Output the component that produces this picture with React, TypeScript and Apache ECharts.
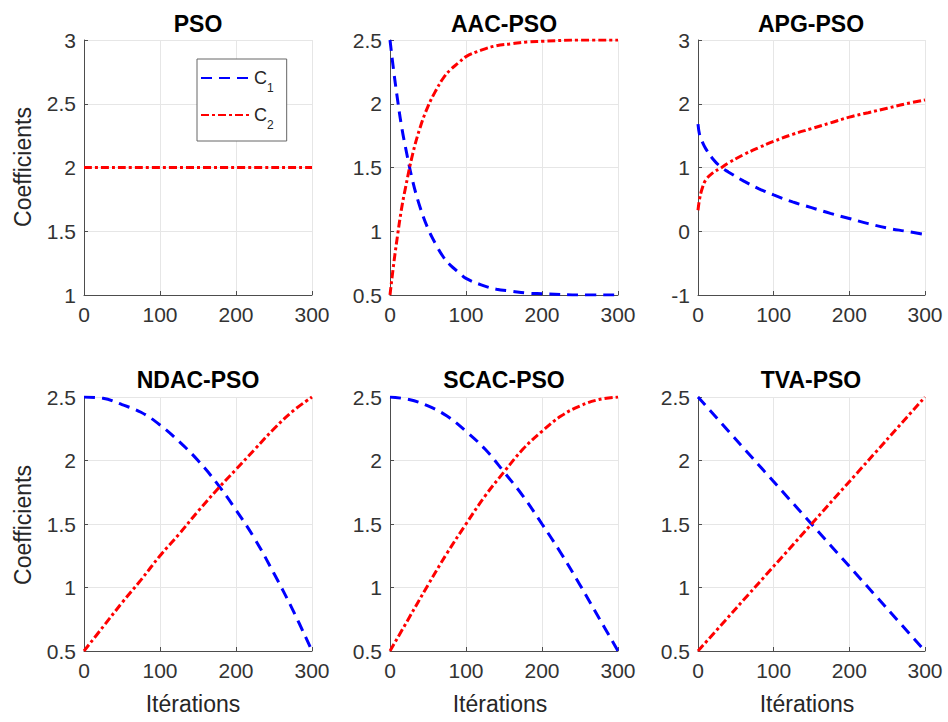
import React, { useEffect, useRef } from 'react';
import * as echarts from 'echarts';

// ---------- data ----------
const panelTitles = ['PSO', 'AAC-PSO', 'APG-PSO', 'NDAC-PSO', 'SCAC-PSO', 'TVA-PSO'];
const seriesNames = ['C1', 'C2'];

// PSO: C1 = C2 = 2 (C1 lies entirely under C2 and is not visible in the reference)
const psoIter = [0, 300];
const psoC1 = [2, 2];
const psoC2 = [2, 2];

const aacIter = [0, 5, 10, 15, 20, 30, 40, 50, 60, 70, 80, 90, 100, 120, 140, 160, 180, 200, 250, 300];
const aacC1 = [2.5, 2.25, 2.03, 1.83, 1.67, 1.39, 1.18, 1.02, 0.9, 0.8, 0.73, 0.68, 0.63, 0.58, 0.545, 0.53, 0.515, 0.51, 0.5, 0.5];
const aacC2 = [0.5, 0.75, 0.97, 1.17, 1.33, 1.61, 1.82, 1.98, 2.1, 2.2, 2.27, 2.32, 2.37, 2.42, 2.455, 2.47, 2.485, 2.49, 2.5, 2.5];

const apgIter = [0, 2, 5, 10, 20, 30, 40, 60, 80, 100, 125, 150, 175, 200, 225, 250, 275, 300];
const apgC1 = [1.68, 1.52, 1.42, 1.3, 1.13, 1.01, 0.93, 0.79, 0.67, 0.57, 0.46, 0.37, 0.28, 0.2, 0.12, 0.05, 0.0, -0.05];
const apgC2 = [0.33, 0.5, 0.65, 0.8, 0.92, 0.99, 1.07, 1.2, 1.31, 1.41, 1.52, 1.61, 1.7, 1.79, 1.86, 1.93, 2.0, 2.06];

const stepIter = [0, 25, 50, 75, 100, 125, 150, 175, 200, 225, 250, 275, 300];
const ndacC1 = [2.5, 2.49, 2.44, 2.38, 2.28, 2.15, 2.0, 1.82, 1.61, 1.38, 1.11, 0.82, 0.5];
const ndacC2 = [0.5, 0.69, 0.88, 1.06, 1.25, 1.42, 1.6, 1.77, 1.93, 2.09, 2.25, 2.39, 2.5];
const scacC1 = [2.5, 2.48, 2.43, 2.35, 2.23, 2.09, 1.91, 1.72, 1.5, 1.27, 1.02, 0.76, 0.5];
const scacC2 = [0.5, 0.76, 1.02, 1.27, 1.5, 1.72, 1.91, 2.09, 2.23, 2.35, 2.43, 2.48, 2.5];
const tvaIter = [0, 300];
const tvaC1 = [2.5, 0.5];
const tvaC2 = [0.5, 2.5];

const yMins = [1, 0.5, -1, 0.5, 0.5, 0.5];
const yMaxs = [3, 2.5, 3, 2.5, 2.5, 2.5];
const yIntervals = [0.5, 0.5, 1, 0.5, 0.5, 0.5];
const xMin = 0;
const xMax = 300;
const xInterval = 100;

const panelData = [
  [psoIter, psoC1, psoC2],
  [aacIter, aacC1, aacC2],
  [apgIter, apgC1, apgC2],
  [stepIter, ndacC1, ndacC2],
  [stepIter, scacC1, scacC2],
  [tvaIter, tvaC1, tvaC2],
];

// ---------- layout / style ----------
const FONT = '"Liberation Sans", Arial, sans-serif';
const gridBoxes = [
  { left: 84, top: 40, width: 228, height: 255 },
  { left: 390, top: 40, width: 228, height: 255 },
  { left: 698, top: 40, width: 227, height: 255 },
  { left: 84, top: 397, width: 228, height: 254 },
  { left: 390, top: 397, width: 228, height: 254 },
  { left: 698, top: 397, width: 227, height: 254 },
];
const titleCenters = [
  [198, 24], [504, 24], [811, 24],
  [198, 380], [504, 380], [811, 380],
];

function buildOption() {
  const grid = gridBoxes.map((g) => ({ ...g, containLabel: false }));
  const xAxis = gridBoxes.map((_, i) => ({
    type: 'value',
    gridIndex: i,
    min: xMin,
    max: xMax,
    interval: xInterval,
    axisLine: { show: true, onZero: false, lineStyle: { color: '#4d4d4d', width: 1 } },
    axisTick: { show: true, inside: true, length: 4, lineStyle: { color: '#4d4d4d' } },
    splitLine: { show: true, lineStyle: { color: '#e6e6e6', width: 1 } },
    axisLabel: { fontSize: 21, fontFamily: FONT, color: '#333', margin: 9 },
  }));
  const yAxis = gridBoxes.map((_, i) => ({
    type: 'value',
    gridIndex: i,
    min: yMins[i],
    max: yMaxs[i],
    interval: yIntervals[i],
    axisLine: { show: true, onZero: false, lineStyle: { color: '#4d4d4d', width: 1 } },
    axisTick: { show: true, inside: true, length: 4, lineStyle: { color: '#4d4d4d' } },
    splitLine: { show: true, lineStyle: { color: '#e6e6e6', width: 1 } },
    axisLabel: { fontSize: 21, fontFamily: FONT, color: '#333', margin: 8 },
  }));

  const series: any[] = [];
  panelData.forEach(([it, c1, c2], i) => {
    series.push({
      name: seriesNames[0],
      type: 'line',
      xAxisIndex: i,
      yAxisIndex: i,
      data: it.map((t, k) => [t, c1[k]]),
      symbol: 'none',
      smooth: 0.4,
      lineStyle: { color: '#0000ff', width: 3, type: [11, 7], opacity: i === 0 ? 0 : 1 },
      itemStyle: { color: '#0000ff' },
      z: 3,
    });
    series.push({
      name: seriesNames[1],
      type: 'line',
      xAxisIndex: i,
      yAxisIndex: i,
      data: it.map((t, k) => [t, c2[k]]),
      symbol: 'none',
      smooth: 0.4,
      lineStyle: { color: '#ff0000', width: 3, type: [8, 3, 3, 3] },
      itemStyle: { color: '#ff0000' },
      z: 4,
    });
  });

  const graphic: any[] = [];
  panelTitles.forEach((t, i) => {
    graphic.push({
      type: 'text',
      x: titleCenters[i][0],
      y: titleCenters[i][1],
      style: {
        text: t,
        font: `bold 23px ${FONT}`,
        fill: '#000',
        textAlign: 'center',
        textVerticalAlign: 'middle',
      },
    });
  });
  [[23, 167], [23, 525]].forEach(([x, y]) => {
    graphic.push({
      type: 'text',
      x,
      y,
      rotation: Math.PI / 2,
      style: {
        text: 'Coefficients',
        font: `23px ${FONT}`,
        fill: '#262626',
        textAlign: 'center',
        textVerticalAlign: 'middle',
      },
    });
  });
  [193, 500, 807].forEach((x) => {
    graphic.push({
      type: 'text',
      x,
      y: 704,
      style: {
        text: 'Itérations',
        font: `23px ${FONT}`,
        fill: '#262626',
        textAlign: 'center',
        textVerticalAlign: 'middle',
      },
    });
  });

  return {
    animation: false,
    backgroundColor: '#ffffff',
    grid,
    xAxis,
    yAxis,
    series,
    graphic,
    legend: {
      data: seriesNames,
      orient: 'vertical',
      left: 197,
      top: 59,
      padding: [10, 13, 10, 3],
      itemWidth: 48,
      itemHeight: 12,
      itemGap: 12,
      borderColor: '#666',
      borderWidth: 1,
      backgroundColor: '#fff',
      selectedMode: false,
      itemStyle: { color: 'transparent', borderColor: 'transparent', borderWidth: 0, opacity: 0 },
      lineStyle: { opacity: 1 },
      formatter: (name: string) => `{c|C}{sub|${name.slice(1)}}`,
      textStyle: {
        fontFamily: FONT,
        color: '#262626',
        rich: {
          c: { fontSize: 18, lineHeight: 18, fontFamily: FONT, color: '#262626', verticalAlign: 'top' },
          sub: { fontSize: 12, lineHeight: 12, fontFamily: FONT, color: '#262626', verticalAlign: 'top', padding: [13, 0, 0, 0] },
        },
      },
    },
  };
}

export default function App() {
  const ref = useRef<HTMLDivElement | null>(null);
  useEffect(() => {
    if (!ref.current) return;
    const chart = echarts.init(ref.current, undefined, { renderer: 'svg' });
    chart.setOption(buildOption() as any);
    return () => chart.dispose();
  }, []);
  return (
    <div
      ref={ref}
      style={{ position: 'fixed', left: 0, top: 0, width: 948, height: 722, background: '#fff' }}
    />
  );
}
